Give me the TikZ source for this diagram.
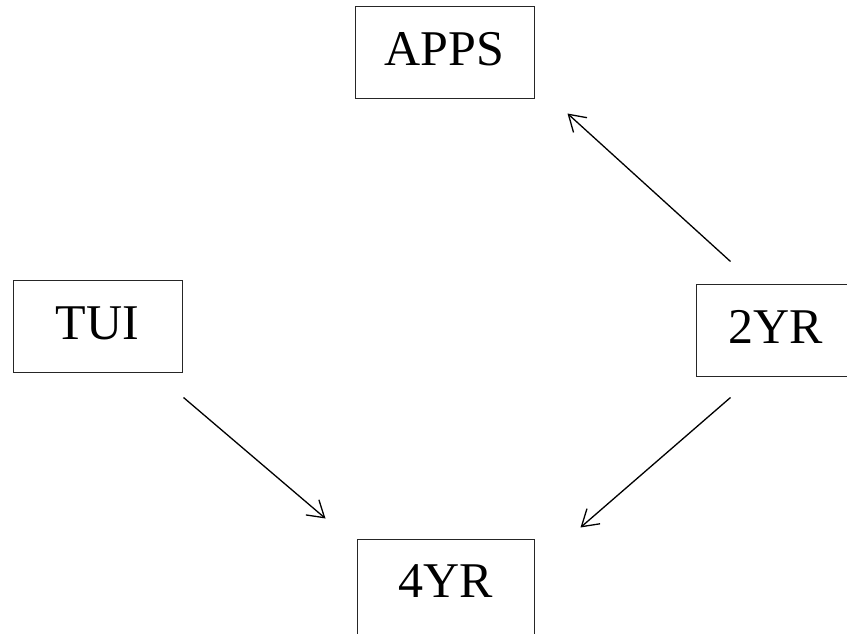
\documentclass[tikz,border=0pt]{standalone}
\usepackage{fontspec}
\setmainfont{Liberation Serif}
\usetikzlibrary{arrows.meta,calc}
\tikzset{
  boxnode/.style={draw=black!85, line width=1pt, inner sep=0pt, minimum height=92pt,
    font=\fontsize{50}{60}\selectfont, text height=33pt, text depth=7pt},
  conn/.style={line width=1.3pt, -{Straight Barb[length=16pt,width=20pt,line width=1.3pt]}}
}
\begin{document}
\begin{tikzpicture}[x=1pt,y=-1pt]
\useasboundingbox (0,0) rectangle (847,634);
\clip (0,0) rectangle (847,634);
\node[boxnode, minimum width=179pt] (apps) at (444.5,53) {APPS};
\node[boxnode, minimum width=169pt] (tui) at (97.5,326) {TUI};
\node[boxnode, minimum width=160pt] (twoyr) at (776,330) {2YR};
\node[boxnode, minimum width=177pt, minimum height=110pt, text depth=26pt] (fouryr) at (445.5,594) {4YR};
\draw[conn] ($(twoyr.north west)+(35,-22)$) -- ($(apps.south east)+(33,14)$);
\draw[conn] ($(tui.south east)+(1,25)$) -- ($(fouryr.north west)+(-31,-20)$);
\draw[conn] ($(twoyr.south west)+(35,21)$) -- ($(fouryr.north east)+(46,-11)$);
\end{tikzpicture}
\end{document}
